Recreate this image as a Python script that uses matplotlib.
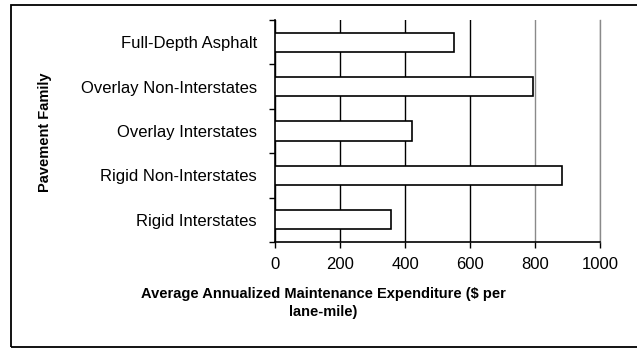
import numpy as np
import matplotlib.pyplot as plt
from matplotlib.patches import Rectangle

plt.rcParams['font.family'] = ['Liberation Sans', 'DejaVu Sans']

# categories bottom -> top
families = ['Rigid Interstates', 'Rigid Non-Interstates', 'Overlay Interstates',
            'Overlay Non-Interstates', 'Full-Depth Asphalt']
expenditure = [356, 882, 422, 795, 552]
xticks = [0, 200, 400, 600, 800, 1000]

fig = plt.figure(figsize=(6.37, 3.5), dpi=100)
ax = fig.add_axes([275/637, 1-242/350, 325/637, 222/350])

pos = np.arange(len(families))
ax.barh(pos, expenditure, height=0.43, color='white', edgecolor='black',
        linewidth=1.2, zorder=3)

ax.set_xlim(0, 1000)
ax.set_ylim(-0.5, len(families) - 0.5)
ax.set_xticks(xticks)
ax.set_xticklabels([str(v) for v in xticks], fontsize=12)

# boundary ticks (major) and labels at category centres (minor)
ax.set_yticks(np.arange(-0.5, len(families), 1.0))
ax.set_yticklabels([])
ax.set_yticks(pos, minor=True)
ax.set_yticklabels(families, minor=True, fontsize=12)
ax.tick_params(axis='y', which='minor', length=0, pad=13)
ax.tick_params(axis='y', which='major', length=4, width=1, direction='out')
ax.tick_params(axis='x', length=4, width=1, direction='out', pad=7)

ax.grid(axis='x', color='black', linewidth=1.0, zorder=0)
for gl, v in zip(ax.get_xgridlines(), xticks):
    if v >= 800:
        gl.set_color('#8a8a8a')
ax.set_axisbelow(True)

ax.spines['top'].set_visible(False)
ax.spines['right'].set_color('#8a8a8a')
ax.spines['right'].set_linewidth(1.0)
ax.spines['left'].set_linewidth(1.2)
ax.spines['bottom'].set_linewidth(1.2)

fig.text(45/637, 1-132/350, 'Pavement Family', rotation=90, fontsize=10.5,
         fontweight='bold', ha='center', va='center')
fig.text(323/637, 1-303/350,
         'Average Annualized Maintenance Expenditure ($ per\nlane-mile)',
         fontsize=10.5, fontweight='bold', ha='center', va='center',
         linespacing=1.35)

# chart frame
fig.patches.append(Rectangle((11/637, 1-347/350), 0.99, (347-5)/350,
                             transform=fig.transFigure, fill=False,
                             edgecolor='black', linewidth=1.3))

fig.savefig('out.png', dpi=100)
